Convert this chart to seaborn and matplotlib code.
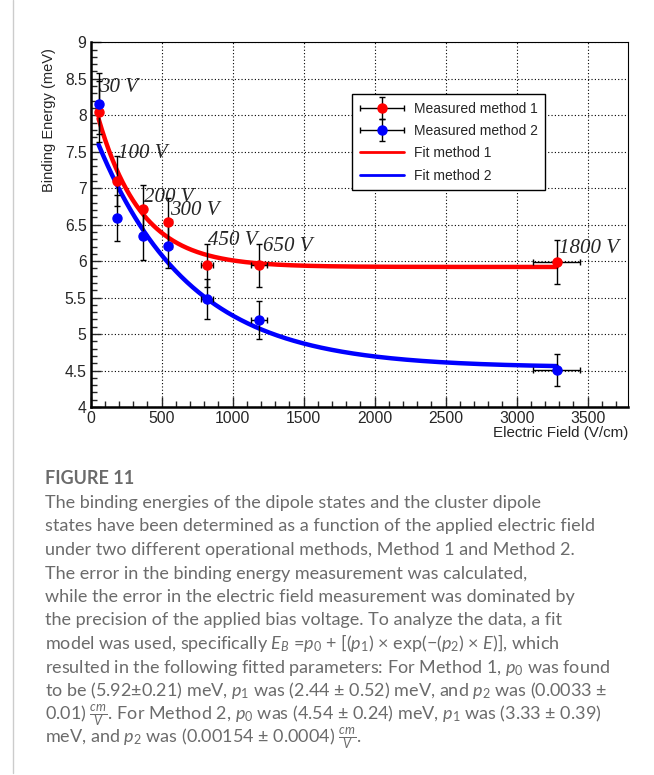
import numpy as np
import pandas as pd
import matplotlib
matplotlib.use('Agg')
import matplotlib.pyplot as plt
from matplotlib.lines import Line2D
from matplotlib.ticker import MultipleLocator
from matplotlib.container import ErrorbarContainer
from matplotlib.legend_handler import HandlerErrorbar
import seaborn as sns

# Bias voltages and the electric field they give (V/cm)
voltages = ['30 V', '100 V', '200 V', '300 V', '450 V', '650 V', '1800 V']
field = [55, 182, 365, 547, 820, 1185, 3282]
field_err = [3, 9, 18, 27, 41, 59, 164]

# Binding energies (meV)
be_m1 = [8.05, 7.10, 6.71, 6.54, 5.94, 5.94, 5.99]
err_m1 = [0.42, 0.34, 0.34, 0.33, 0.30, 0.30, 0.30]
be_m2 = [8.16, 6.59, 6.34, 6.21, 5.48, 5.19, 4.51]
err_m2 = [0.42, 0.32, 0.33, 0.30, 0.27, 0.26, 0.22]

# Fit parameters E_B = p0 + p1*exp(-p2*E)
fit_m1 = (5.92, 2.44, 0.0033)
fit_m2 = (4.54, 3.33, 0.00154)

sns.set_style('ticks')
plt.rcParams['font.family'] = ['Liberation Sans', 'DejaVu Sans']
plt.rcParams['mathtext.fontset'] = 'custom'
plt.rcParams['mathtext.rm'] = 'Lato'
plt.rcParams['mathtext.it'] = 'Lato:italic'
plt.rcParams['mathtext.bf'] = 'Lato:bold'

W, H = 654, 775
fig = plt.figure(figsize=(W / 100, H / 100), dpi=100, facecolor='white')
ax = fig.add_axes([90.7 / W, 1 - 407 / H, (628 - 90.7) / W, (407 - 42.3) / H])

# fit curves
e_grid = np.linspace(field[0], field[-1], 400)
fit_df = pd.concat([
    pd.DataFrame({'E': e_grid, 'BE': p0 + p1 * np.exp(-p2 * e_grid), 'method': name})
    for name, (p0, p1, p2) in [('Fit method 1', fit_m1), ('Fit method 2', fit_m2)]
])
sns.lineplot(data=fit_df, x='E', y='BE', hue='method', palette=['#ff0000', '#0000ff'],
             linewidth=3.2, legend=False, ax=ax, zorder=3)

eb_kw = dict(fmt='o', ecolor='black', elinewidth=1, capsize=2, capthick=1,
             markersize=6.5, zorder=4)
h1 = ax.errorbar(field, be_m1, xerr=field_err, yerr=err_m1, color='#ff0000', **eb_kw)
h2 = ax.errorbar(field, be_m2, xerr=field_err, yerr=err_m2, color='#0000ff', **eb_kw)

# voltage labels
offsets = [(0.5, 19.7), (1.5, 23), (1, 7), (1.6, 7), (1, 20.7), (3.7, 14), (2.6, 8.7)]
for lab, x, y, (dx, dy) in zip(voltages, field, be_m1, offsets):
    ax.annotate(lab, xy=(x, y), xytext=(dx, dy), textcoords='offset pixels',
                family='Liberation Serif', style='italic', fontsize=15,
                va='baseline', ha='left', zorder=5)

ax.set_xlim(0, 3784)
ax.set_ylim(4, 9)
ax.xaxis.set_major_locator(MultipleLocator(500))
ax.xaxis.set_minor_locator(MultipleLocator(100))
ax.yaxis.set_minor_locator(MultipleLocator(0.1))
ax.set_yticks(np.arange(4, 9.01, 0.5))
ax.set_yticklabels(['4', '4.5', '5', '5.5', '6', '6.5', '7', '7.5', '8', '8.5', '9'])
ax.tick_params(which='major', direction='in', length=7, width=1, labelsize=11.3, pad=3)
ax.tick_params(which='minor', direction='in', length=4, width=1)
ax.grid(True, which='major', color='black', linestyle=(0, (1, 2)), linewidth=0.8)
ax.set_axisbelow(True)
for side in ['left', 'bottom']:
    ax.spines[side].set_linewidth(1.8)
for side in ['top', 'right']:
    ax.spines[side].set_linewidth(0.8)
for s in ax.spines.values():
    s.set_color('black')
ax.set_xlabel('')
ax.set_ylabel('')

fig.text(49 / W, 1 - 48 / H, 'Binding Energy (meV)', rotation=90, ha='center', va='top', fontsize=10.5)
fig.text(628 / W, 1 - 433 / H, 'Electric Field (V/cm)', ha='right', va='center', fontsize=10.9)

handles = [h1, h2,
           Line2D([], [], color='#ff0000', lw=2),
           Line2D([], [], color='#0000ff', lw=2)]
labels = ['Measured method 1', 'Measured method 2', 'Fit method 1', 'Fit method 2']
leg = ax.legend(handles, labels, loc='upper left', bbox_to_anchor=(352 / W, 1 - 94 / H),
                bbox_transform=fig.transFigure, fontsize=10, frameon=True, fancybox=False,
                edgecolor='black', framealpha=1, handlelength=3.2, labelspacing=0.6,
                borderpad=0.55, handletextpad=0.7, borderaxespad=0,
                handler_map={ErrorbarContainer: HandlerErrorbar(xerr_size=1.6, yerr_size=0.8)})
leg.get_frame().set_linewidth(1)
leg.set_zorder(10)

# caption
fig.add_artist(Line2D([13 / W, 13 / W], [2 / H, 1], transform=fig.transFigure, color='#cccccc', lw=1))
cap_color = '#6b6b6b'
fig.text(45 / W, 1 - 484 / H, 'FIGURE 11', family='Lato', weight='bold', fontsize=13,
         color='#6b6b6b', va='baseline')
lines = [
    'The binding energies of the dipole states and the cluster dipole',
    'states have been determined as a function of the applied electric field',
    'under two different operational methods, Method 1 and Method 2.',
    'The error in the binding energy measurement was calculated,',
    'while the error in the electric field measurement was dominated by',
    'the precision of the applied bias voltage. To analyze the data, a fit',
    r'model was used, specifically $E_B$ =$p_0$ + [($p_1$) × exp(−($p_2$) × $E$)], which',
    r'resulted in the following fitted parameters: For Method 1, $p_0$ was found',
    r'to be (5.92±0.21) meV, $p_1$ was (2.44 ± 0.52) meV, and $p_2$ was (0.0033 ±',
    r'0.01) $\frac{cm}{V}$. For Method 2, $p_0$ was (4.54 ± 0.24) meV, $p_1$ was (3.33 ± 0.39)',
    r'meV, and $p_2$ was (0.00154 ± 0.0004) $\frac{cm}{V}$.',
]
for i, t in enumerate(lines):
    fig.text(45 / W, 1 - (508 + 23.5 * i) / H, t, family='Lato', fontsize=13,
             color=cap_color, va='baseline')

fig.savefig('out.png', dpi=100, facecolor='white')
